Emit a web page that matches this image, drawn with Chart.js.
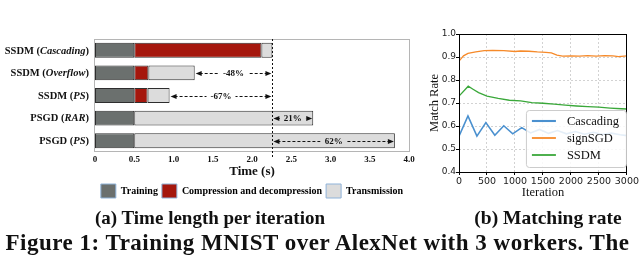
<!DOCTYPE html>
<html><head><meta charset="utf-8">
<script src="https://cdn.jsdelivr.net/npm/chart.js@4.4.1/dist/chart.umd.min.js"></script>
<style>
html,body{margin:0;padding:0;background:#fff;width:640px;height:257px;overflow:hidden;position:relative}
canvas{position:absolute;top:0}
.cap{position:absolute;font-family:"Liberation Serif","Times New Roman",serif;font-weight:bold;color:#111;white-space:nowrap;text-align:center}
</style></head><body>
<canvas id="c1" width="420" height="208" style="left:0"></canvas>
<canvas id="c2" width="225" height="205" style="left:415px"></canvas>
<div class="cap" style="left:0;width:420px;top:207px;line-height:22px;font-size:19px">(a) Time length per iteration</div>
<div class="cap" style="left:458px;width:180px;top:207px;line-height:22px;font-size:19.5px">(b) Matching rate</div>
<div class="cap" id="fig" style="left:0;width:635px;top:232px;line-height:22px;font-size:23px;letter-spacing:0.5px">Figure 1: Training MNIST over AlexNet with 3 workers. The</div>
<script>
// ---------- (a) Time length per iteration ----------
const catMain = ['SSDM', 'SSDM', 'SSDM', 'PSGD', 'PSGD'];
const catSub = ['Cascading', 'Overflow', 'PS', 'RAR', 'PS'];
const trainingTime = [0.5, 0.5, 0.5, 0.5, 0.5];
const compressionTime = [1.62, 0.18, 0.17, 0, 0];
const transmissionTime = [0.14, 0.59, 0.28, 2.28, 3.32];
const deltaLabels = ['', '-48%', '-67%', '21%', '62%'];
const timeTicks = [0, 0.5, 1.0, 1.5, 2.0, 2.5, 3.0, 3.5, 4.0];

// ---------- (b) Matching rate ----------
const cascadingIter = [0, 160, 320, 480, 640, 800, 960, 1120, 1280, 1440, 1600, 1760, 1920, 2080, 2240, 2400, 2560, 2720, 2880, 3000];
const cascadingRate = [0.556, 0.644, 0.556, 0.615, 0.560, 0.601, 0.566, 0.593, 0.570, 0.585, 0.568, 0.580, 0.566, 0.576, 0.564, 0.573, 0.563, 0.569, 0.562, 0.558];
const signIter = [0, 80, 160, 300, 450, 600, 800, 1000, 1100, 1250, 1400, 1550, 1650, 1750, 1850, 2000, 2150, 2300, 2450, 2600, 2750, 2850, 3000];
const signRate = [0.882, 0.905, 0.916, 0.922, 0.928, 0.929, 0.928, 0.924, 0.926, 0.925, 0.922, 0.920, 0.918, 0.908, 0.904, 0.905, 0.904, 0.906, 0.904, 0.906, 0.905, 0.902, 0.905];
const ssdmIter = [0, 165, 250, 350, 500, 700, 900, 1100, 1300, 1500, 1700, 1900, 2100, 2300, 2500, 2700, 2900, 3000];
const ssdmRate = [0.730, 0.773, 0.760, 0.745, 0.730, 0.720, 0.712, 0.709, 0.702, 0.699, 0.695, 0.691, 0.687, 0.684, 0.682, 0.678, 0.675, 0.674];
const rateTicks = [0.4, 0.5, 0.6, 0.7, 0.8, 0.9, 1.0];
const iterTicks = [0, 500, 1000, 1500, 2000, 2500, 3000];

const SERIF = '"Liberation Serif","Times New Roman",serif';

const leftDecor = {
  id: 'leftDecor',
  afterDatasetsDraw(chart) {
    const {ctx, chartArea: a, scales: {x, y}} = chart;
    const totals = trainingTime.map((t, i) => t + compressionTime[i] + transmissionTime[i]);
    const bx = x.getPixelForValue(totals[0]);
    ctx.save();
    ctx.strokeStyle = '#b5b5b5'; ctx.lineWidth = 1; ctx.setLineDash([]);
    ctx.strokeRect(Math.round(a.left) - 0.5, Math.round(a.top) + 0.5, Math.round(a.right - a.left) + 1, Math.round(a.bottom - a.top) - 1);
    ctx.strokeStyle = '#111'; ctx.setLineDash([2, 2]);
    ctx.beginPath(); ctx.moveTo(Math.round(bx) + 0.5, a.top); ctx.lineTo(Math.round(bx) + 0.5, a.bottom + 6); ctx.stroke();
    ctx.font = 'bold 9px ' + SERIF; ctx.textAlign = 'center'; ctx.textBaseline = 'middle';
    for (let i = 1; i < totals.length; i++) {
      const ex = x.getPixelForValue(totals[i]);
      const yy = Math.round(y.getPixelForValue(i)) + 0.5;
      const l = Math.min(ex, bx) + 1, r = Math.max(ex, bx) - 1;
      ctx.strokeStyle = '#111'; ctx.fillStyle = '#111'; ctx.setLineDash([3, 2]);
      ctx.beginPath(); ctx.moveTo(l + 4, yy); ctx.lineTo(r - 4, yy); ctx.stroke();
      ctx.setLineDash([]);
      ctx.beginPath(); ctx.moveTo(l, yy); ctx.lineTo(l + 6, yy - 2.5); ctx.lineTo(l + 6, yy + 2.5); ctx.closePath(); ctx.fill();
      ctx.beginPath(); ctx.moveTo(r, yy); ctx.lineTo(r - 6, yy - 2.5); ctx.lineTo(r - 6, yy + 2.5); ctx.closePath(); ctx.fill();
      const mx = (l + r) / 2;
      const w = ctx.measureText(deltaLabels[i]).width + 8;
      ctx.fillStyle = i >= 3 ? '#dcdcdc' : '#ffffff'; ctx.fillRect(mx - w / 2, yy - 5, w, 10);
      ctx.fillStyle = '#111'; ctx.fillText(deltaLabels[i], mx, yy + 0.5);
    }
    ctx.textAlign = 'left';
    for (let i = 0; i < catMain.length; i++) {
      const yy = y.getPixelForValue(i) + 0.5;
      const fB = 'bold 10.5px ' + SERIF, fI = 'italic bold 10.5px ' + SERIF;
      const parts = [[catMain[i] + ' (', fB], [catSub[i], fI], [')', fB]];
      let tw = 0;
      parts.forEach(p => { ctx.font = p[1]; tw += ctx.measureText(p[0]).width; });
      let cx = a.left - 6 - tw;
      ctx.fillStyle = '#111';
      parts.forEach(p => { ctx.font = p[1]; ctx.fillText(p[0], cx, yy); cx += ctx.measureText(p[0]).width; });
    }
    ctx.restore();
  }
};

new Chart(document.getElementById('c1'), {
  type: 'bar',
  data: {
    labels: catSub.map((s, i) => catMain[i] + ' (' + s + ')'),
    datasets: [
      {label: 'Training', data: trainingTime, backgroundColor: '#6b706e'},
      {label: 'Compression and decompression', data: compressionTime.map(v => v || null), backgroundColor: '#a5170d'},
      {label: 'Transmission', data: transmissionTime, backgroundColor: '#dcdcdc'}
    ].map(d => Object.assign(d, {borderColor: '#2e2e2e', borderWidth: 1, borderSkipped: false, categoryPercentage: 1, barPercentage: 0.66}))
  },
  options: {
    indexAxis: 'y', responsive: false, animation: false,
    layout: {padding: {top: 39, right: 11, left: 0, bottom: 0}},
    plugins: {
      tooltip: {enabled: false},
      legend: {
        position: 'bottom', fullSize: false,
        labels: {
          boxWidth: 15, boxHeight: 14, padding: 4, color: '#111',
          font: {family: SERIF, size: 10, weight: 'bold'},
          generateLabels(chart) {
            return chart.data.datasets.map((d, i) => ({text: d.label, fillStyle: d.backgroundColor, strokeStyle: '#8fb3d9', lineWidth: 1, datasetIndex: i, hidden: false}));
          }
        }
      }
    },
    scales: {
      x: {
        stacked: true, min: 0, max: 4,
        afterBuildTicks(s) { s.ticks = timeTicks.map(v => ({value: v})); },
        ticks: {color: '#111', font: {family: SERIF, size: 9, weight: 'bold'}, padding: 2, callback: v => v === 0 ? '0' : Number(v).toFixed(1)},
        grid: {display: false, drawTicks: false}, border: {display: false},
        title: {display: true, text: 'Time (s)', color: '#111', font: {family: SERIF, size: 13, weight: 'bold'}, padding: {top: 0, bottom: 1}},
        afterFit(s) { s.height = 28; }
      },
      y: {
        stacked: true, ticks: {display: false}, grid: {display: false}, border: {display: false},
        afterFit(s) { s.width = 95; }
      }
    }
  },
  plugins: [leftDecor]
});

// ---------- right chart ----------
const rightDecor = {
  id: 'rightDecor',
  afterDatasetsDraw(chart) {
    const {ctx, chartArea: a} = chart;
    ctx.save();
    ctx.strokeStyle = '#000'; ctx.lineWidth = 1; ctx.setLineDash([]);
    ctx.strokeRect(Math.round(a.left) + 0.5, Math.round(a.top) + 0.5, Math.round(a.right - a.left) - 1, Math.round(a.bottom - a.top));
    const lx = a.right - 101, ly = a.top + 76, lw = 100, lh = 57;
    ctx.fillStyle = 'rgba(255,255,255,0.85)'; ctx.strokeStyle = '#cccccc';
    ctx.beginPath(); ctx.roundRect(lx + 0.5, ly + 0.5, lw, lh, 3); ctx.fill(); ctx.stroke();
    ctx.font = '12.5px ' + SERIF; ctx.textBaseline = 'middle'; ctx.textAlign = 'left';
    chart.data.datasets.forEach((d, i) => {
      const yy = ly + 11 + i * 17;
      ctx.strokeStyle = d.borderColor; ctx.lineWidth = d.borderWidth + 0.5;
      ctx.beginPath(); ctx.moveTo(lx + 6, yy); ctx.lineTo(lx + 30, yy); ctx.stroke();
      ctx.fillStyle = '#111'; ctx.fillText(d.label, lx + 41, yy + 1);
    });
    ctx.restore();
  }
};

new Chart(document.getElementById('c2'), {
  type: 'line',
  data: {
    datasets: [
      {label: 'Cascading', data: cascadingIter.map((x, i) => ({x, y: cascadingRate[i]})), borderColor: '#4a90cf', borderWidth: 1.6},
      {label: 'signSGD', data: signIter.map((x, i) => ({x, y: signRate[i]})), borderColor: '#f68a2a', borderWidth: 1.3},
      {label: 'SSDM', data: ssdmIter.map((x, i) => ({x, y: ssdmRate[i]})), borderColor: '#3aa83a', borderWidth: 1.3}
    ].map(d => Object.assign(d, {pointRadius: 0, tension: 0, fill: false}))
  },
  options: {
    responsive: false, animation: false,
    layout: {padding: {top: 34, right: 12, left: 0, bottom: 0}},
    plugins: {legend: {display: false}, tooltip: {enabled: false}},
    scales: {
      x: {
        type: 'linear', min: 0, max: 3000,
        afterBuildTicks(s) { s.ticks = iterTicks.map(v => ({value: v})); },
        ticks: {color: '#222', font: {family: '"DejaVu Sans", sans-serif', size: 9.5}, padding: 1, maxRotation: 0, callback: v => String(v)},
        grid: {color: '#d2d2d2', tickColor: '#000', tickLength: 3, tickBorderDash: []},
        border: {display: false, dash: [2, 2]},
        title: {display: true, text: 'Iteration', color: '#111', font: {family: SERIF, size: 12.5}, padding: {top: 0, bottom: 5}},
        afterFit(s) { s.height = 33; }
      },
      y: {
        min: 0.4, max: 1.0,
        afterBuildTicks(s) { s.ticks = rateTicks.map(v => ({value: v})); },
        ticks: {color: '#222', font: {family: '"DejaVu Sans", sans-serif', size: 9}, padding: 0, callback: v => Number(v).toFixed(1)},
        grid: {color: '#d2d2d2', tickColor: '#000', tickLength: 3, tickBorderDash: []},
        border: {display: false, dash: [2, 2]},
        title: {display: true, text: 'Match Rate', color: '#111', font: {family: SERIF, size: 12.5}, padding: {top: 12, bottom: 0}},
        afterFit(s) { s.width = 44; }
      }
    }
  },
  plugins: [rightDecor]
});
</script>
</body></html>
